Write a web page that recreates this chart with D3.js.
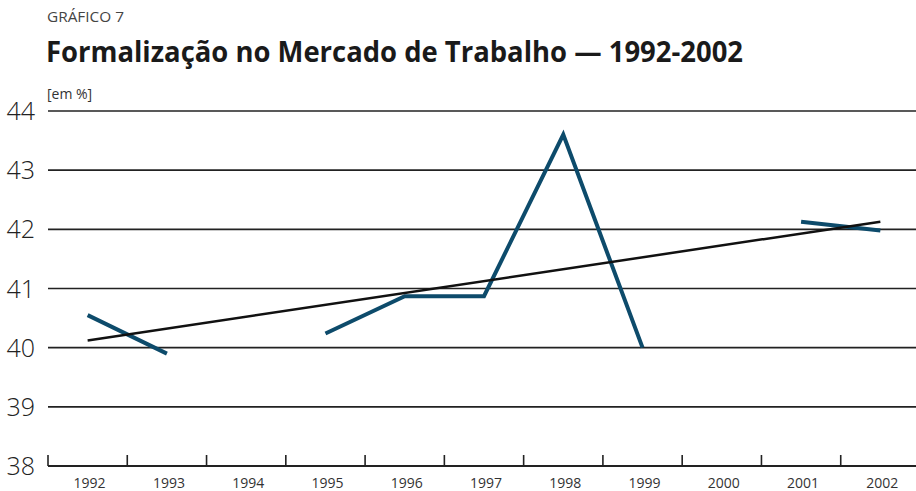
<!DOCTYPE html>
<html>
<head>
<meta charset="utf-8">
<script src="https://cdn.jsdelivr.net/npm/d3@7"></script>
<style>
  body { margin: 0; background: #fff; }
  svg { display: block; font-family: "Open Sans", "DejaVu Sans", sans-serif; }
</style>
</head>
<body>
<svg id="chart" width="916" height="491"></svg>
<script>
// data
const years = ['1992', '1993', '1994', '1995', '1996', '1997', '1998', '1999', '2000', '2001', '2002'];
const values = [40.55, 39.9, null, 40.24, 40.87, 40.87, 43.6, 40.0, null, 42.13, 41.98];
const trend = [40.12, 42.13]; // linear trend, first and last year
const yTicks = [38, 39, 40, 41, 42, 43, 44];

const svg = d3.select('#chart');
const width = 916;
const margin = { top: 111, left: 48, bottom: 466 };

const x = d3.scaleBand().domain(years).range([margin.left, 920]);
const y = d3.scaleLinear().domain([38, 44]).range([margin.bottom, margin.top]);
const cx = (d) => x(d) + x.bandwidth() / 2;

// titles
svg.append('text')
  .attr('x', 47).attr('y', 22)
  .attr('font-size', 15).attr('fill', '#444')
  .attr('textLength', 77).attr('lengthAdjust', 'spacingAndGlyphs')
  .text('GRÁFICO 7');

svg.append('text')
  .attr('x', 46).attr('y', 62)
  .attr('font-size', 28).attr('font-weight', 700).attr('fill', '#1a1a1a')
  .attr('textLength', 697).attr('lengthAdjust', 'spacingAndGlyphs')
  .text('Formalização no Mercado de Trabalho — 1992-2002');

svg.append('text')
  .attr('x', 47).attr('y', 99)
  .attr('font-size', 14).attr('fill', '#333')
  .text('[em %]');

// gridlines
svg.append('g')
  .selectAll('line')
  .data(yTicks.filter((d) => d > 38))
  .join('line')
  .attr('x1', margin.left).attr('x2', width)
  .attr('y1', (d) => y(d)).attr('y2', (d) => y(d))
  .attr('stroke', '#222').attr('stroke-width', 1.6);

// y labels
svg.append('g')
  .selectAll('text')
  .data(yTicks)
  .join('text')
  .attr('x', 35).attr('y', (d) => y(d) + 9)
  .attr('text-anchor', 'end')
  .attr('font-size', 25).attr('font-weight', 300).attr('fill', '#222')
  .text((d) => d);

// x axis with ticks between categories
const xAxis = svg.append('g');
xAxis.append('line')
  .attr('x1', margin.left).attr('x2', width)
  .attr('y1', margin.bottom).attr('y2', margin.bottom)
  .attr('stroke', '#222').attr('stroke-width', 2);

xAxis.selectAll('.tick')
  .data(years)
  .join('line')
  .attr('class', 'tick')
  .attr('x1', (d) => x(d)).attr('x2', (d) => x(d))
  .attr('y1', margin.bottom).attr('y2', margin.bottom - 11)
  .attr('stroke', '#222').attr('stroke-width', 1.6);

xAxis.selectAll('text')
  .data(years)
  .join('text')
  .attr('x', (d) => cx(d) + 2).attr('y', 488)
  .attr('text-anchor', 'middle')
  .attr('font-size', 14).attr('fill', '#333')
  .text((d) => d);

// series
const line = d3.line()
  .defined((d) => d.v != null)
  .x((d) => cx(d.year))
  .y((d) => y(d.v));

svg.append('path')
  .datum(years.map((year, i) => ({ year, v: values[i] })))
  .attr('fill', 'none')
  .attr('stroke', '#0d4b6b')
  .attr('stroke-width', 4)
  .attr('d', line);

// trend line
svg.append('line')
  .attr('x1', cx(years[0])).attr('y1', y(trend[0]))
  .attr('x2', cx(years[years.length - 1])).attr('y2', y(trend[1]))
  .attr('stroke', '#111').attr('stroke-width', 2.5);
</script>
</body>
</html>
